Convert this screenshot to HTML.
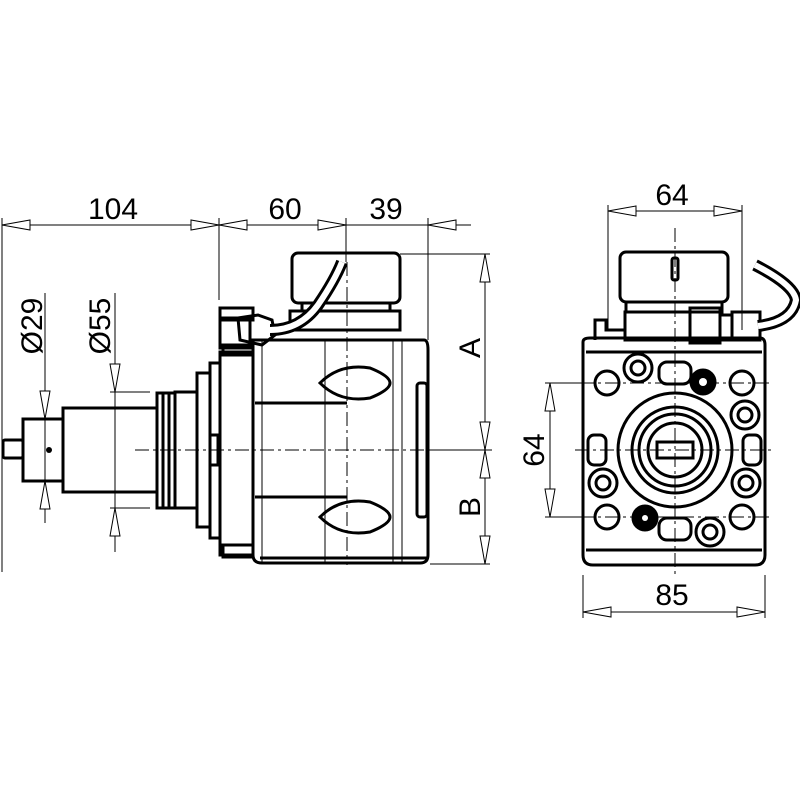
<!DOCTYPE html>
<html><head><meta charset="utf-8"><style>
html,body{margin:0;padding:0;background:#fff;}
svg{display:block}
text{font-family:"Liberation Sans",sans-serif;font-size:30px;fill:#000}
</style></head><body>
<svg width="800" height="800" viewBox="0 0 800 800" xmlns="http://www.w3.org/2000/svg">
<defs>
<g id="ar"><path d="M0,0 L28,-5 L28,5 Z" fill="#fff" stroke="#000" stroke-width="1"/></g>
</defs>
<g stroke="#000" fill="none">
<g stroke-width="1">
<line x1="2" y1="225" x2="471" y2="225"/>
<line x1="2" y1="218" x2="2" y2="572"/>
<line x1="219" y1="218" x2="219" y2="300"/>
<line x1="346" y1="218" x2="346" y2="262"/>
<line x1="428" y1="218" x2="428" y2="340"/>
<line x1="485" y1="254" x2="485" y2="564"/>
<line x1="400" y1="254" x2="490" y2="254"/>
<line x1="430" y1="450" x2="492" y2="450"/>
<line x1="430" y1="564" x2="490" y2="564"/>
<line x1="45" y1="293" x2="45" y2="523"/>
<line x1="115" y1="293" x2="115" y2="552"/>
<line x1="110" y1="392" x2="150" y2="392"/>
<line x1="110" y1="508" x2="150" y2="508"/>
<line x1="608" y1="211" x2="742" y2="211"/>
<line x1="608" y1="205" x2="608" y2="330"/>
<line x1="742" y1="205" x2="742" y2="330"/>
<line x1="583" y1="575" x2="583" y2="618"/>
<line x1="765" y1="575" x2="765" y2="618"/>
<line x1="583" y1="612" x2="765" y2="612"/>
<line x1="550" y1="383" x2="550" y2="517"/>
<line x1="545" y1="383" x2="590" y2="383"/>
<line x1="545" y1="517" x2="590" y2="517"/>
</g>
<use href="#ar" transform="translate(2,225)"/>
<use href="#ar" transform="translate(219,225) rotate(180)"/>
<use href="#ar" transform="translate(219,225)"/>
<use href="#ar" transform="translate(346,225) rotate(180)"/>
<use href="#ar" transform="translate(428,225)"/>
<use href="#ar" transform="translate(485,254) rotate(90)"/>
<use href="#ar" transform="translate(485,450) rotate(-90)"/>
<use href="#ar" transform="translate(485,450) rotate(90)"/>
<use href="#ar" transform="translate(485,564) rotate(-90)"/>
<use href="#ar" transform="translate(45,419) rotate(-90)"/>
<use href="#ar" transform="translate(45,481) rotate(90)"/>
<use href="#ar" transform="translate(115,392) rotate(-90)"/>
<use href="#ar" transform="translate(115,508) rotate(90)"/>
<use href="#ar" transform="translate(608,211)"/>
<use href="#ar" transform="translate(742,211) rotate(180)"/>
<use href="#ar" transform="translate(583,612)"/>
<use href="#ar" transform="translate(765,612) rotate(180)"/>
<use href="#ar" transform="translate(550,383) rotate(90)"/>
<use href="#ar" transform="translate(550,517) rotate(-90)"/>

<g stroke-width="1" stroke-dasharray="14,4,3,4">
<line x1="135" y1="450" x2="433" y2="450"/>
<line x1="347" y1="262" x2="347" y2="565"/>
<line x1="675" y1="228" x2="675" y2="575"/>
<line x1="575" y1="450" x2="772" y2="450"/>
<line x1="580" y1="383" x2="770" y2="383"/>
<line x1="580" y1="517" x2="770" y2="517"/>
</g>

<!-- left view -->
<g stroke-width="3">
<rect x="3" y="440" width="20" height="18" rx="2"/>
<rect x="23" y="419" width="40" height="62"/>
<rect x="63" y="408" width="94" height="84"/>
<rect x="157" y="393" width="18" height="115"/>
<line x1="163" y1="393" x2="163" y2="508"/>
<line x1="169" y1="393" x2="169" y2="508"/>
<rect x="175" y="392" width="22" height="116"/>
<rect x="197" y="373" width="13" height="154"/>
<rect x="210" y="363" width="10" height="175"/>
<rect x="210" y="435" width="8" height="30"/>
<rect x="220" y="352" width="33" height="203"/>
<rect x="223" y="345" width="30" height="10"/>
<rect x="223" y="545" width="30" height="12"/>
<rect x="220" y="308" width="33" height="12"/>
<rect x="220" y="318" width="30" height="30"/>
<path d="M253,340 H424 Q428,340 428,350 V555 Q428,563 420,563 H262 Q253,563 253,555 Z"/>
<line x1="260" y1="558" x2="428" y2="558"/>
<path d="M255,403 H347 M255,497 H347"/>
<rect x="417" y="383" width="10" height="134" rx="3"/>
<path d="M320,383 Q340,363 370,368 Q390,376 390,383 Q390,390 370,398 Q340,403 320,383 Z"/>
<path d="M320,517 Q340,497 370,502 Q390,510 390,517 Q390,524 370,532 Q340,537 320,517 Z"/>
<rect x="292" y="253" width="108" height="50" rx="6"/>
<rect x="302" y="303" width="88" height="8"/>
<path d="M290,311 H400 V330 H290 Z"/>
<path d="M238,318 L258,315 L272,320 L275,335 L262,345 L240,340 Z"/>
<path d="M270,330 Q300,330 318,305 Q335,280 342,262" stroke-width="12"/>
<path d="M270,330 Q300,330 318,305 Q335,280 342,262" stroke="#fff" stroke-width="6"/>
</g>
<g stroke-width="1">
<line x1="262" y1="340" x2="262" y2="563"/>
<line x1="325" y1="340" x2="325" y2="563"/>
<line x1="393" y1="340" x2="393" y2="563"/>
<line x1="402" y1="340" x2="402" y2="563"/>
</g>
<circle cx="49" cy="450" r="3" fill="#000" stroke="none"/>

<!-- right view -->
<g stroke-width="3">
<rect x="620" y="252" width="108" height="50" rx="6"/>
<rect x="672" y="258" width="6" height="22" rx="2"/>
<rect x="626" y="302" width="96" height="10"/>
<rect x="625" y="312" width="95" height="28"/>
<path d="M595,340 V320 H606 V330 H625"/>
<path d="M583,342 Q583,338 590,338 H760 Q765,338 765,345 V555 Q765,565 755,565 H593 Q583,565 583,555 Z"/>
<line x1="586" y1="550" x2="762" y2="550"/>
<line x1="586" y1="352" x2="762" y2="352"/>
<rect x="690" y="308" width="30" height="35"/>
<rect x="720" y="315" width="12" height="25"/>
<rect x="732" y="312" width="28" height="28"/>
<path d="M758,326 Q792,322 796,300 Q794,285 755,265" stroke-width="12"/>
<path d="M758,326 Q792,322 796,300 Q794,285 755,265" stroke="#fff" stroke-width="6"/>
<circle cx="675" cy="450" r="57"/>
<circle cx="675" cy="450" r="43"/>
<circle cx="675" cy="450" r="36"/>
<circle cx="675" cy="450" r="27"/>
<rect x="657" y="442" width="36" height="16"/>
<circle cx="607" cy="383" r="12"/><circle cx="742" cy="383" r="12"/>
<circle cx="607" cy="517" r="12"/><circle cx="742" cy="517" r="12"/>
<circle cx="638" cy="368" r="14"/><circle cx="638" cy="368" r="7"/>
<circle cx="745" cy="415" r="14"/><circle cx="745" cy="415" r="7"/>
<circle cx="603" cy="483" r="14"/><circle cx="603" cy="483" r="7"/>
<circle cx="746" cy="483" r="14"/><circle cx="746" cy="483" r="7"/>
<circle cx="710" cy="532" r="14"/><circle cx="710" cy="532" r="7"/>
<rect x="659" y="362" width="32" height="22" rx="8"/>
<rect x="659" y="518" width="32" height="22" rx="8"/>
<rect x="588" y="435" width="18" height="30" rx="6"/>
<rect x="743" y="435" width="18" height="30" rx="6"/>
</g>
<circle cx="703" cy="382" r="13" fill="#000"/>
<circle cx="703" cy="382" r="4" fill="#fff" stroke="none"/>
<circle cx="645" cy="518" r="13" fill="#000"/>
<circle cx="645" cy="518" r="3" fill="#fff" stroke="none"/>
</g>

<text x="113" y="219" text-anchor="middle">104</text>
<text x="285" y="219" text-anchor="middle">60</text>
<text x="386" y="219" text-anchor="middle">39</text>
<text x="672" y="205" text-anchor="middle">64</text>
<text x="672" y="605" text-anchor="middle">85</text>
<text transform="translate(480,348) rotate(-90)" text-anchor="middle">A</text>
<text transform="translate(480,507) rotate(-90)" text-anchor="middle">B</text>
<text transform="translate(544,450) rotate(-90)" text-anchor="middle">64</text>
<text transform="translate(42,326) rotate(-90)" text-anchor="middle">Ø29</text>
<text transform="translate(110,326) rotate(-90)" text-anchor="middle">Ø55</text>
</svg>
</body></html>
